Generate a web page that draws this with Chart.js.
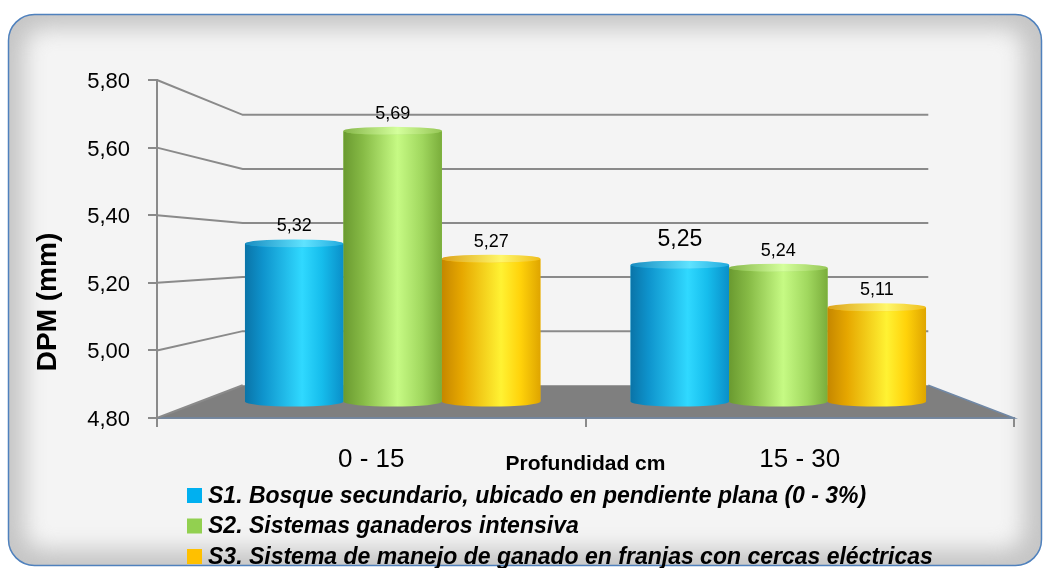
<!DOCTYPE html>
<html>
<head>
<meta charset="utf-8">
<script src="https://cdn.jsdelivr.net/npm/chart.js@4.4.1/dist/chart.umd.min.js"></script>
<style>
  html, body { margin: 0; padding: 0; background: #ffffff; }
  canvas { display: block; }
</style>
</head>
<body>
<canvas id="chart" width="1047" height="568"></canvas>
<script>
// ---- data ----
const CATEGORIES = ['0 - 15', '15 - 30'];
const SERIES_NAMES = [
  'S1. Bosque secundario, ubicado en pendiente plana (0 - 3%)',
  'S2. Sistemas ganaderos intensiva',
  'S3. Sistema de manejo de ganado en franjas con cercas eléctricas'
];
const S1_VALUES = [5.32, 5.25];
const S2_VALUES = [5.69, 5.24];
const S3_VALUES = [5.27, 5.11];
const Y_MIN = 4.8;
const Y_MAX = 5.8;
const Y_STEP = 0.2;
const Y_TITLE = 'DPM (mm)';
const X_TITLE = 'Profundidad cm';

// ---- look ----
const SERIES_COLORS = ['#00b0f0', '#92d050', '#ffc000'];
const BODY_STOPS = [
  [[0, '#0a74a8'], [0.18, '#0e93cc'], [0.58, '#30d9ff'], [0.78, '#16bdec'], [1, '#0a8fc9']],
  [[0, '#6a9a30'], [0.2, '#87bb46'], [0.55, '#c6fa84'], [0.8, '#a0d75e'], [1, '#7aad3b']],
  [[0, '#c58700'], [0.2, '#e6a700'], [0.6, '#fff233'], [0.8, '#ffd20a'], [1, '#dfa500']]
];
const CAP_STOPS = [
  [[0, '#1a8cc0'], [0.6, '#5fe3ff'], [1, '#22a9dd']],
  [[0, '#86b64a'], [0.55, '#d4ff9c'], [1, '#96c656']],
  [[0, '#dca21a'], [0.6, '#fff76a'], [1, '#efbd1c']]
];
const LABEL_FONT_PX = [[18, 23], [18, 18], [18, 18]];
const GRID_COLOR = '#8a8a8a';
const FLOOR_COLOR = '#7f7f7f';
const DEPTH_MID = 0.9;    // bars sit half-way into the box
const DEPTH_BACK = 0.8;   // back wall
const VANISH_VALUE = 5.285;
const CAP_RY = 4;

const fmt = v => v.toFixed(2).replace('.', ',');

// hidden bar scales: front scale shrunk towards the vanishing point
const ybMin = VANISH_VALUE - (VANISH_VALUE - Y_MIN) / DEPTH_MID;
const ybMax = VANISH_VALUE + (Y_MAX - VANISH_VALUE) / DEPTH_MID;
const xCenter = (CATEGORIES.length - 1) / 2;
const xbMin = xCenter - (CATEGORIES.length / 2) / DEPTH_MID;
const xbMax = xCenter + (CATEGORIES.length / 2) / DEPTH_MID;

const seriesValues = [S1_VALUES, S2_VALUES, S3_VALUES];

function roundRect(ctx, x, y, w, h, r) {
  ctx.beginPath();
  ctx.moveTo(x + r, y);
  ctx.lineTo(x + w - r, y);
  ctx.arcTo(x + w, y, x + w, y + r, r);
  ctx.lineTo(x + w, y + h - r);
  ctx.arcTo(x + w, y + h, x + w - r, y + h, r);
  ctx.lineTo(x + r, y + h);
  ctx.arcTo(x, y + h, x, y + h - r, r);
  ctx.lineTo(x, y + r);
  ctx.arcTo(x, y, x + r, y, r);
  ctx.closePath();
}

function makeGradient(ctx, l, r, stops) {
  const g = ctx.createLinearGradient(l, 0, r, 0);
  stops.forEach(([o, c]) => g.addColorStop(o, c));
  return g;
}

const scene3d = {
  id: 'scene3d',
  beforeDraw(chart) {
    const ctx = chart.ctx;
    const px = 8.5, py = 14.5, pw = 1033, ph = 551, pr = 26;
    ctx.save();
    roundRect(ctx, px, py, pw, ph, pr);
    ctx.clip();
    ctx.fillStyle = '#c6c6c6';
    ctx.fillRect(0, 0, chart.width, chart.height);
    ctx.filter = 'blur(11px)';
    ctx.fillStyle = '#f4f4f4';
    roundRect(ctx, px + 16, py + 14, pw - 34, ph - 30, 20);
    ctx.fill();
    ctx.filter = 'none';
    ctx.restore();
    ctx.save();
    roundRect(ctx, px, py, pw, ph, pr);
    ctx.strokeStyle = '#4f81bd';
    ctx.lineWidth = 1.5;
    ctx.stroke();
    ctx.restore();
  },
  beforeDatasetsDraw(chart) {
    const {ctx, chartArea: ca, scales} = chart;
    const y = scales.y;
    const vx = (ca.left + ca.right) / 2;
    const vy = y.getPixelForValue(VANISH_VALUE);
    const back = (fx, fy) => [vx + (fx - vx) * DEPTH_BACK, vy + (fy - vy) * DEPTH_BACK];
    const [blx, bby] = back(ca.left, ca.bottom);
    const [brx] = back(ca.right, ca.bottom);

    // floor
    ctx.save();
    ctx.beginPath();
    ctx.moveTo(ca.left, ca.bottom);
    ctx.lineTo(blx, bby);
    ctx.lineTo(brx, bby);
    ctx.lineTo(ca.right, ca.bottom);
    ctx.closePath();
    ctx.fillStyle = FLOOR_COLOR;
    ctx.fill();
    ctx.beginPath();
    ctx.moveTo(ca.left, ca.bottom);
    ctx.lineTo(ca.right, ca.bottom);
    ctx.lineTo(brx, bby);
    ctx.strokeStyle = '#7088a6';
    ctx.lineWidth = 1.5;
    ctx.stroke();

    // side and back wall grid
    ctx.strokeStyle = GRID_COLOR;
    ctx.lineWidth = 2;
    y.ticks.forEach(t => {
      const fy = y.getPixelForValue(t.value);
      const [bx, by] = back(ca.left, fy);
      ctx.beginPath();
      ctx.moveTo(ca.left, fy);
      ctx.lineTo(bx, by);
      if (t.value > Y_MIN + 1e-9) ctx.lineTo(brx, by);
      ctx.stroke();
    });
    ctx.restore();
  },
  afterDatasetsDraw(chart) {
    const ctx = chart.ctx;
    const nCat = CATEGORIES.length;
    ctx.save();
    for (let i = 0; i < nCat; i++) {
      chart.data.datasets.forEach((ds, d) => {
        const el = chart.getDatasetMeta(d).data[i];
        const {x, y, base, width} = el.getProps(['x', 'y', 'base', 'width'], true);
        const l = x - width / 2, r = x + width / 2, rx = width / 2;
        // body
        ctx.fillStyle = makeGradient(ctx, l, r, BODY_STOPS[d]);
        ctx.beginPath();
        ctx.moveTo(l, y);
        ctx.lineTo(l, base);
        ctx.ellipse(x, base, rx, CAP_RY + 1, 0, Math.PI, 0, true);
        ctx.lineTo(r, y);
        ctx.ellipse(x, y, rx, CAP_RY, 0, 0, Math.PI, false);
        ctx.closePath();
        ctx.fill();
        // top face
        ctx.fillStyle = makeGradient(ctx, l, r, CAP_STOPS[d]);
        ctx.beginPath();
        ctx.ellipse(x, y, rx, CAP_RY, 0, 0, Math.PI * 2);
        ctx.fill();
      });
    }
    // value labels
    chart.data.datasets.forEach((ds, d) => {
      chart.getDatasetMeta(d).data.forEach((el, i) => {
        const px = LABEL_FONT_PX[d][i];
        const {x, y} = el.getProps(['x', 'y'], true);
        ctx.font = px + "px 'Liberation Sans', Arial, sans-serif";
        ctx.fillStyle = '#000000';
        ctx.textAlign = 'center';
        ctx.textBaseline = 'alphabetic';
        ctx.fillText(fmt(ds.data[i].y), x, y - CAP_RY - 8 - (px - 18) * 1.4);
      });
    });
    ctx.restore();
  },
  afterDraw(chart) {
    const ctx = chart.ctx;
    ctx.save();
    // vertical axis title
    ctx.translate(48, 302);
    ctx.rotate(-Math.PI / 2);
    ctx.font = "bold 28px 'Liberation Sans', Arial, sans-serif";
    ctx.fillStyle = '#000000';
    ctx.textAlign = 'center';
    ctx.textBaseline = 'middle';
    ctx.fillText(Y_TITLE, 0, 0);
    ctx.restore();

    // legend
    ctx.save();
    ctx.font = "italic bold 23px 'Liberation Sans', Arial, sans-serif";
    ctx.textAlign = 'left';
    ctx.textBaseline = 'middle';
    chart.data.datasets.forEach((ds, d) => {
      const cy = 495.5 + d * 30.5;
      ctx.fillStyle = ds.backgroundColor;
      ctx.fillRect(187, cy - 7.5, 15, 15);
      ctx.fillStyle = '#000000';
      ctx.fillText(ds.label, 208, cy + 1);
    });
    ctx.restore();
  }
};

const datasets = SERIES_NAMES.map((name, d) => ({
  label: name,
  data: seriesValues[d].map((v, i) => ({x: i, y: v})),
  backgroundColor: SERIES_COLORS[d],
  borderWidth: 0,
  base: Y_MIN,
  xAxisID: 'xb',
  yAxisID: 'yb',
  categoryPercentage: 0.766,
  barPercentage: 1.0
}));

new Chart(document.getElementById('chart'), {
  type: 'bar',
  data: { labels: CATEGORIES, datasets },
  options: {
    responsive: false,
    animation: false,
    devicePixelRatio: 1,
    layout: { padding: { left: 0, top: 80, right: 33, bottom: 91 } },
    plugins: { legend: { display: false }, tooltip: { enabled: false } },
    scales: {
      x: {
        type: 'category',
        position: 'bottom',
        z: 1,
        offset: true,
        grid: { offset: true, drawOnChartArea: false, drawTicks: true, tickLength: 9, color: GRID_COLOR, lineWidth: 2 },
        border: { display: true, color: GRID_COLOR, width: 2 },
        ticks: { color: '#000000', padding: 17, font: { family: "'Liberation Sans', Arial, sans-serif", size: 26 } },
        title: { display: true, text: X_TITLE, color: '#000000', padding: 0,
                 font: { family: "'Liberation Sans', Arial, sans-serif", size: 21, weight: 'bold' } },
        afterFit: s => { s.height = 59; }
      },
      y: {
        type: 'linear',
        position: 'left',
        z: 1,
        min: Y_MIN,
        max: Y_MAX,
        grid: { drawOnChartArea: false, drawTicks: true, tickLength: 9, color: GRID_COLOR, lineWidth: 2 },
        border: { display: true, color: GRID_COLOR, width: 2 },
        ticks: { stepSize: Y_STEP, color: '#000000', padding: 18, labelOffset: 2, callback: v => fmt(v),
                 font: { family: "'Liberation Sans', Arial, sans-serif", size: 22 } },
        afterFit: s => { s.width = 157; }
      },
      xb: {
        type: 'linear',
        display: false,
        offset: false,
        min: xbMin,
        max: xbMax,
        grid: { offset: false },
        afterBuildTicks: s => { s.ticks = CATEGORIES.map((c, i) => ({ value: i })); }
      },
      yb: {
        type: 'linear',
        display: false,
        min: ybMin,
        max: ybMax
      }
    }
  },
  plugins: [scene3d]
});
</script>
</body>
</html>
